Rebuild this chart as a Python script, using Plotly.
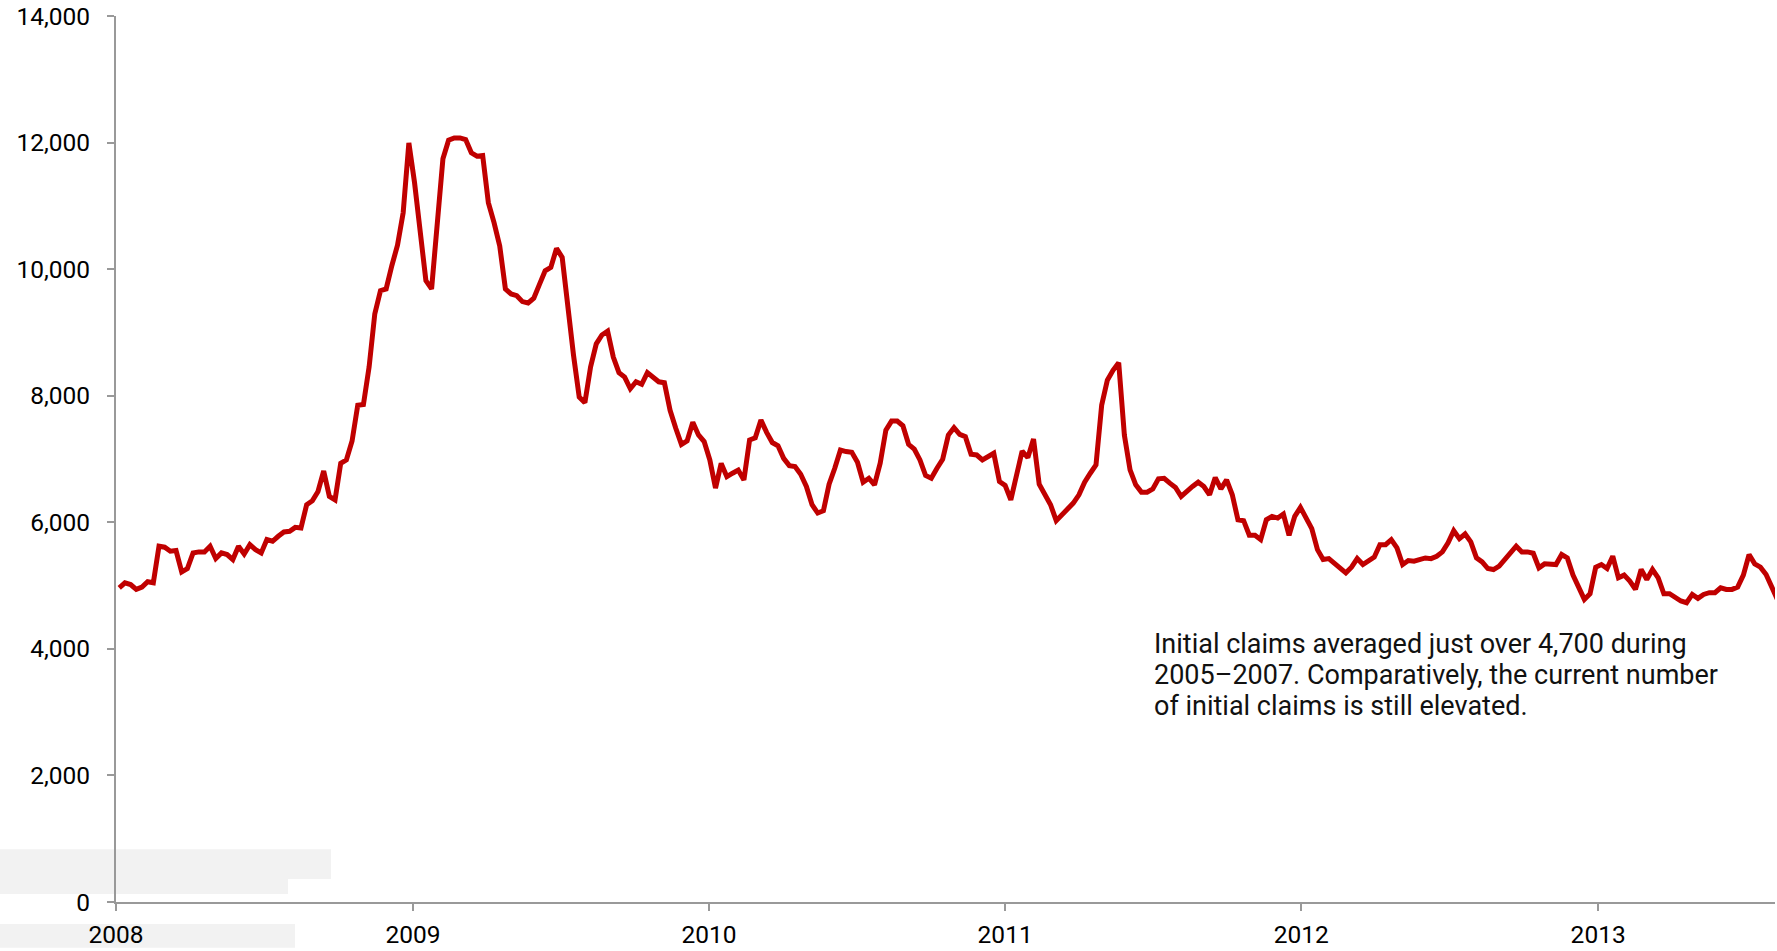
import pandas as pd
import plotly.graph_objects as go

# Weekly initial claims, first week ending 2008-01-05
start_week = "2008-01-05"
claims = [
    4965, 5044, 5017, 4939, 4976, 5060, 5044, 5622, 5606, 5543,
    5553, 5217, 5269, 5516, 5532, 5532, 5622, 5427, 5516, 5490,
    5411, 5622, 5500, 5647, 5568, 5516, 5726, 5700, 5779, 5847,
    5857, 5920, 5910, 6277, 6340, 6487, 6811, 6409, 6355, 6933,
    6985, 7284, 7850, 7861, 8455, 9294, 9660, 9687, 10054, 10379,
    10894, 11995, 11366, 10526, 9818, 9687, 10683, 11744, 12037, 12074,
    12074, 12047, 11838, 11785, 11796, 11051, 10736, 10368, 9687, 9608,
    9581, 9487, 9466, 9540, 9760, 9975, 10028, 10327, 10186, 9320,
    8637, 7980, 7890, 8455, 8820, 8960, 9020, 8610, 8365, 8295,
    8110, 8220, 8180, 8365, 8295, 8220, 8205, 7770, 7485, 7230,
    7285, 7580, 7380, 7275, 6985, 6540, 6930, 6720, 6775, 6825,
    6670, 7300, 7335, 7615, 7420, 7260, 7210, 7010, 6895, 6880,
    6760, 6566, 6277, 6146, 6182, 6602, 6854, 7142, 7117, 7106,
    6948, 6633, 6696, 6591, 6933, 7457, 7599, 7599, 7526, 7232,
    7157, 6985, 6739, 6696, 6854, 6996, 7378, 7494, 7389, 7353,
    7074, 7063, 6985, 7038, 7090, 6645, 6582, 6355, 6749, 7126,
    7022, 7315, 6602, 6434, 6277, 6025, 6119, 6213, 6303, 6434,
    6633, 6775, 6906, 7850, 8244, 8401, 8520, 7378, 6827, 6591,
    6476, 6476, 6528, 6686, 6696, 6618, 6550, 6408, 6497, 6566,
    6633, 6566, 6434, 6707, 6528, 6670, 6434, 6040, 6025, 5795,
    5795, 5726, 6040, 6093, 6067, 6130, 5795, 6093, 6235, 6056,
    5899, 5568, 5411, 5426, 5359, 5280, 5201, 5291, 5426, 5332,
    5395, 5449, 5647, 5647, 5726, 5595, 5332, 5395, 5385, 5411,
    5437, 5426, 5464, 5532, 5674, 5867, 5741, 5815, 5690, 5437,
    5374, 5269, 5253, 5307, 5411, 5490, 5622, 5532, 5532, 5511,
    5280, 5343, 5343, 5332, 5490, 5437, 5165, 4965, 4781, 4871,
    5291, 5332, 5269, 5464, 5123, 5165, 5071, 4939, 5253, 5096,
    5253, 5123, 4871, 4871, 4808, 4756, 4729, 4860, 4797, 4860,
    4887, 4887, 4965, 4939, 4939, 4976, 5165, 5490, 5343, 5291,
    5175, 4965, 4781,
]
year_ticks = ["2008", "2009", "2010", "2011", "2012", "2013"]
y_ticks = [0, 2000, 4000, 6000, 8000, 10000, 12000, 14000]
note_lines = [
    "Initial claims averaged just over 4,700 during",
    "2005\u20132007. Comparatively, the current number",
    "of initial claims is still elevated.",
]

weeks = pd.date_range(start_week, periods=len(claims), freq="7D")

W, H = 1777, 951
L, R, T, B = 116, 2, 16, 46
pw, ph = W - L - R, H - T - B

def px_x(x):
    return (x - L) / pw

def px_y(y):
    return (H - B - y) / ph

FONT = "Roboto, 'DejaVu Sans', sans-serif"

fig = go.Figure()
fig.add_trace(go.Scatter(
    x=weeks, y=claims, mode="lines",
    line=dict(color="#c00000", width=5),
    hoverinfo="x+y", showlegend=False,
))

gray = "#f2f2f2"
for (x0, x1, y0, y1) in [(0, 331, 852, 882), (0, 288, 882, 897), (0, 295, 927, 951)]:
    fig.add_shape(type="rect", xref="paper", yref="paper",
                  x0=px_x(x0), x1=px_x(x1), y0=px_y(y1), y1=px_y(y0),
                  fillcolor=gray, line=dict(width=0), layer="below")

for i, line in enumerate(note_lines):
    fig.add_annotation(
        xref="paper", yref="paper", x=px_x(1152), y=px_y(646 + 31 * i),
        xanchor="left", yanchor="middle", align="left", showarrow=False,
        text=line, font=dict(family=FONT, size=27, color="#111111"),
    )

fig.update_layout(
    width=W, height=H,
    margin=dict(l=L, r=R, t=T, b=B, pad=0),
    paper_bgcolor="white", plot_bgcolor="rgba(0,0,0,0)",
    font=dict(family=FONT, size=24, color="#000000"),
    xaxis=dict(
        type="date",
        range=["2008-01-01", "2013-08-07"],
        tickmode="array",
        tickvals=[f"{y}-01-01" for y in year_ticks],
        ticktext=year_ticks,
        showgrid=False, zeroline=False,
        showline=True, linecolor="#999999", linewidth=2,
        ticks="outside", ticklen=7, tickwidth=2, tickcolor="#999999",
        ticklabelstandoff=3,
        tickfont=dict(family=FONT, size=24.5, color="#000000"),
    ),
    yaxis=dict(
        range=[0, 14000],
        tickmode="array", tickvals=y_ticks,
        ticktext=[f"{v:,}" for v in y_ticks],
        showgrid=False, zeroline=False,
        showline=True, linecolor="#999999", linewidth=2,
        ticks="outside", ticklen=7, tickwidth=2, tickcolor="#999999",
        ticklabelstandoff=12,
        tickfont=dict(family=FONT, size=24.5, color="#000000"),
    ),
)

fig.write_html("out.html")
